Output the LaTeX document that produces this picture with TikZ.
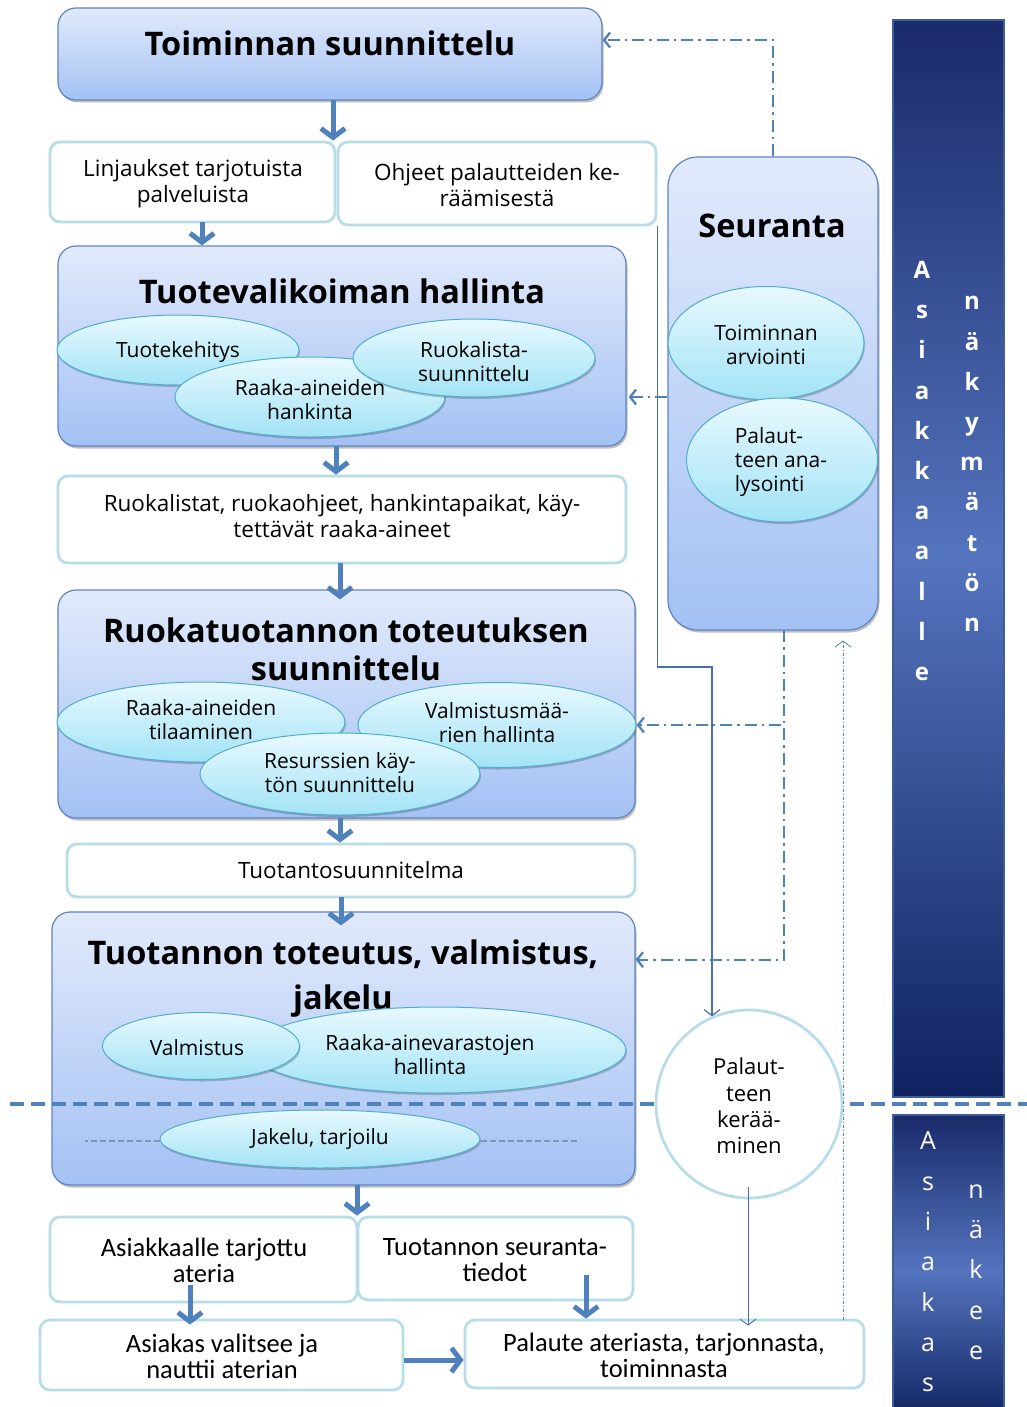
\documentclass[tikz,border=0pt]{standalone}
\usepackage{fontspec}
\setmainfont{Open Sans}
\newfontfamily\condfont{Carlito}
\usetikzlibrary{arrows.meta,shapes.geometric,shadows,calc}
\definecolor{boxT}{HTML}{E1EAFB}
\definecolor{boxB}{HTML}{A4C1F4}
\definecolor{boxD}{HTML}{5F84C4}
\definecolor{ovT}{HTML}{E8F9FE}
\definecolor{ovB}{HTML}{A2E3F6}
\definecolor{ovD}{HTML}{52AEC8}
\definecolor{cyanL}{HTML}{B7DDE8}
\definecolor{arrC}{HTML}{4F81BD}
\definecolor{thinC}{HTML}{4A6FAE}
\definecolor{barTop}{HTML}{1A2A6A}
\definecolor{barMid}{HTML}{5474BE}
\definecolor{barBot}{HTML}{0F215F}
\definecolor{barEdge}{HTML}{3E5F96}
\definecolor{jakC}{HTML}{7F96B8}
\tikzset{
  bluebox/.style={rectangle, rounded corners=18pt, top color=boxT, bottom color=boxB, draw=boxD, line width=1.2pt, inner sep=0pt,
    drop shadow={shadow xshift=1.5pt, shadow yshift=-2.5pt, opacity=0.25, fill=black}},
  whitebox/.style={rectangle, rounded corners=10pt, fill=white, draw=cyanL, line width=2.8pt, inner sep=0pt},
  oval/.style={ellipse, top color=ovT, bottom color=ovB, draw=ovD, line width=1pt, inner sep=0pt,
    drop shadow={shadow xshift=1pt, shadow yshift=-2pt, opacity=0.2, fill=black}},
  txt/.style={align=center, inner sep=0pt, font=\fontsize{22.5}{26}\selectfont},
  otxt/.style={align=center, inner sep=0pt, font=\fontsize{21}{24}\selectfont},
  ctxt/.style={align=center, inner sep=0pt, font=\condfont\fontsize{26.5}{26}\selectfont},
  title/.style={align=center, inner sep=0pt, font=\fontsize{32.5}{38}\selectfont\bfseries},
  bigarrow/.style={line width=5pt, draw=arrC, -{Straight Barb[length=9pt,width=24pt]}},
  ddarrow/.style={line width=2.3pt, draw=arrC, dash pattern=on 12pt off 5pt on 2.5pt off 5pt, -{Straight Barb[length=6pt,width=15pt]}},
  thinarrow/.style={line width=1.2pt, draw=thinC, -{Straight Barb[length=6pt,width=16pt]}},
  dotarrow/.style={line width=0.8pt, draw=arrC, dash pattern=on 3pt off 2pt on 1pt off 2pt, -{Straight Barb[length=6pt,width=16pt]}},
  barletters/.style={align=center, inner sep=0pt, text=white, font=\fontsize{24}{40.2}\selectfont\bfseries},
  barlettersB/.style={align=center, inner sep=0pt, text=white, font=\fontsize{25}{40.3}\selectfont},
}
\begin{document}
\begin{tikzpicture}[x=1pt,y=-1pt]
\useasboundingbox (0,0) rectangle (1027,1407);
\fill[white] (0,0) rectangle (1027,1407);
% right bars
\begin{scope}
\clip (0,0) rectangle (1027,1407);
\node[rectangle, minimum width=111, minimum height=1077, inner sep=0pt, top color=barTop, bottom color=barBot, middle color=barMid, draw=barEdge, line width=2.5pt] (R1) at (948.5,558.5) {};
\node[rectangle, minimum width=111, minimum height=310, inner sep=0pt, top color=barTop, bottom color=barBot, middle color=barMid, draw=barEdge, line width=2.5pt] (R2) at (948.5,1270) {};
\end{scope}
\node[barletters] (R1a) at (922,471) {A\\s\\i\\a\\k\\k\\a\\a\\l\\l\\e};
\node[barletters] (R1b) at (972,464) {n\\ä\\k\\y\\m\\ä\\t\\ö\\n};
\node[barlettersB] (R2a) at (928,1262) {A\\s\\i\\a\\k\\a\\s};
\node[barlettersB] (R2b) at (976,1272) {n\\ä\\k\\e\\e};

% Toiminnan suunnittelu
\node[bluebox, minimum width=544, minimum height=92] (A) at (330,54) {};
\node[title] (At) at (330,43) {Toiminnan suunnittelu};
% Linjaukset / Ohjeet
\node[whitebox, minimum width=285, minimum height=80] (B) at (192.5,182) {};
\node[txt] (Bt) at (193,184) {Linjaukset tarjotuista\\palveluista};
\node[whitebox, minimum width=318, minimum height=83] (C) at (497,183.5) {};
\node[txt] (Ct) at (497,185) {Ohjeet palautteiden ke-\\räämisestä};
% Tuotevalikoiman hallinta
\node[bluebox, minimum width=568, minimum height=200] (D) at (342,346) {};
\node[title] (Dt) at (342,291) {Tuotevalikoiman hallinta};
\node[oval, minimum width=242, minimum height=70] (d1) at (178,350) {};
\node[otxt] (d1t) at (178,352) {Tuotekehitys};
\node[oval, minimum width=270, minimum height=80] (d2) at (310,397) {};
\node[oval, minimum width=242, minimum height=78] (d3) at (474,358) {};
\node[otxt] (d3t) at (474,362) {Ruokalista-\\suunnittelu};
\node[otxt] (d2t) at (310,400) {Raaka-aineiden\\hankinta};
% Ruokalistat
\node[whitebox, minimum width=568, minimum height=87] (E) at (342,519.5) {};
\node[txt] (Et) at (342,516) {Ruokalistat, ruokaohjeet, hankintapaikat, käy-\\tettävät raaka-aineet};
% Ruokatuotannon toteutuksen suunnittelu
\node[bluebox, minimum width=577, minimum height=228] (F) at (346.5,704) {};
\node[title] (Ft) at (346,649) {Ruokatuotannon toteutuksen\\suunnittelu};
\node[oval, minimum width=288, minimum height=80] (f1) at (201,722) {};
\node[oval, minimum width=278, minimum height=85] (f2) at (497,725) {};
\node[oval, minimum width=280, minimum height=82] (f3) at (340,774) {};
\node[otxt] (f1t) at (201,720) {Raaka-aineiden\\tilaaminen};
\node[otxt] (f2t) at (497,723) {Valmistusmää-\\rien hallinta};
\node[otxt] (f3t) at (340,773) {Resurssien käy-\\tön suunnittelu};
% Tuotantosuunnitelma
\node[whitebox, minimum width=568, minimum height=53] (G) at (351,870.5) {};
\node[txt] (Gt) at (351,870) {Tuotantosuunnitelma};
% Tuotannon toteutus
\node[bluebox, minimum width=583, minimum height=273] (H) at (343.5,1048.5) {};
\node[title, font=\fontsize{32.5}{45}\selectfont\bfseries] (Ht) at (343,979) {Tuotannon toteutus, valmistus,\\jakelu};
\node[oval, minimum width=376, minimum height=86] (h2) at (438,1050) {};
\node[oval, minimum width=197, minimum height=67] (h1) at (201,1046) {};
\node[otxt] (h1t) at (197,1048) {Valmistus};
\node[otxt] (h2t) at (430,1055) {Raaka-ainevarastojen\\hallinta};
% divider
\draw[arrC, line width=3.5pt, dash pattern=on 14pt off 7pt] (10,1104) -- (1027,1104);
\node[oval, minimum width=320, minimum height=58] (h3) at (320,1139) {};
\node[otxt] (h3t) at (320,1139) {Jakelu, tarjoilu};
\coordinate (jl) at (85,1141);
\coordinate (jr) at (578,1141);
\draw[jakC, line width=1.2pt, dash pattern=on 6pt off 3pt] (h3.west |- jl) -- (jl);
\draw[jakC, line width=1.2pt, dash pattern=on 6pt off 3pt] (h3.east |- jr) -- (jr);
% bottom boxes
\node[whitebox, minimum width=307, minimum height=85] (I) at (203.5,1259.5) {};
\node[ctxt] (It) at (204,1260) {Asiakkaalle tarjottu\\ateria};
\node[whitebox, minimum width=275, minimum height=83] (J) at (495.5,1258.5) {};
\node[ctxt] (Jt) at (495,1260) {Tuotannon seuranta-\\tiedot};
\node[whitebox, minimum width=363, minimum height=70] (K) at (221.5,1355) {};
\node[ctxt] (Kt) at (222,1356) {Asiakas valitsee ja\\nauttii aterian};
\node[whitebox, minimum width=399, minimum height=68] (L) at (664.5,1354) {};
\node[ctxt] (Lt) at (664,1355) {Palaute ateriasta, tarjonnasta,\\toiminnasta};
% Seuranta
\node[rectangle, rounded corners=30pt, top color=boxT, bottom color=boxB, draw=boxD, line width=1.2pt, inner sep=0pt,
  minimum width=210, minimum height=473,
  drop shadow={shadow xshift=1.5pt, shadow yshift=-2.5pt, opacity=0.25, fill=black}] (S) at (773,393.5) {};
\node[title] (St) at (772,226) {Seuranta};
\node[oval, minimum width=196, minimum height=113] (s1) at (766,343) {};
\node[otxt] (s1t) at (766,345) {Toiminnan\\arviointi};
\node[oval, minimum width=191, minimum height=124] (s2) at (782,460) {};
\node[otxt, align=left] (s2t) at (781,462) {Palaut-\\teen ana-\\lysointi};
% Palautteen kerääminen
\node[ellipse, minimum width=186, minimum height=188, fill=white, draw=cyanL, line width=2.8pt, inner sep=0pt] (M) at (749,1104) {};
\node[txt, font=\fontsize{22}{26.3}\selectfont] (Mt) at (749,1106) {Palaut-\\teen\\kerää-\\minen};

% main flow arrows
\coordinate (a0) at (333,100);
\draw[bigarrow] (a0) -- (a0 |- B.north);
\coordinate (a1) at (202,222);
\draw[bigarrow] (a1) -- (a1 |- D.north);
\coordinate (a2) at (336,446);
\draw[bigarrow] (a2) -- (a2 |- E.north);
\coordinate (a3) at (340,563);
\draw[bigarrow] (a3) -- ($(a3 |- F.north)+(0,10)$);
\coordinate (a4) at (340,818);
\draw[bigarrow] (a4) -- (a4 |- G.north);
\coordinate (a5) at (341,897);
\draw[bigarrow] (a5) -- ($(a5 |- H.north)+(0,14)$);
\coordinate (a6) at (357,1185);
\draw[bigarrow] (a6) -- (a6 |- I.north);
\coordinate (a7) at (190,1285);
\draw[bigarrow] (a7) -- ($(a7 |- K.north)+(0,6)$);
\coordinate (a8) at (586,1275);
\draw[bigarrow] (a8) -- (a8 |- L.north);
\draw[bigarrow] (K.east |- 0,1360) -- (L.west |- 0,1360);

% thin line from Ohjeet to Palautteen keraaminen
\coordinate (bend) at (712,667);
\draw[thinarrow] (C.south east) |- (bend) -- (bend |- M.113);
% from circle to Palaute
\draw[thinarrow, line width=0.9pt] ($(M.south)+(-1,-12)$) -- ($(M.south |- L.north)+(-1,7)$);
% dotted arrow from Palaute to Seuranta
\coordinate (dp) at (843,1320);
\draw[dotarrow] (dp) -- ($(dp |- S.south)+(0,10)$);
% dash-dot feedback arrows
\draw[ddarrow] (S.north) |- ($(A.north east)!0.35!(A.south east)$);
\draw[ddarrow] (S.west |- 0,397) -- ($(D.east |- 0,397)+(2,0)$);
\coordinate (sb) at (784,630);
\draw[ddarrow] (sb) |- (f2.east);
\draw[ddarrow] (sb) |- ($(H.north east)!0.176!(H.south east)$);
\end{tikzpicture}
\end{document}
